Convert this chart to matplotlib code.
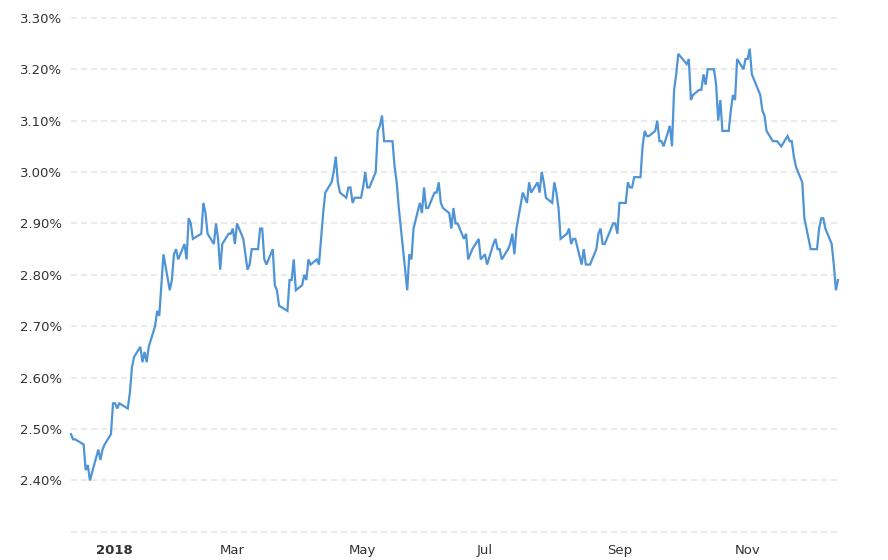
import matplotlib
matplotlib.use("Agg")
import matplotlib.pyplot as plt
import pandas as pd

# 10-year yield, % (trading days, Dec 20 2017 - Dec 20 2018)
dec17 = [2.49, 2.48, 2.48, 2.47, 2.42, 2.43, 2.40]
jan = [2.46, 2.44, 2.46, 2.47, 2.49, 2.55, 2.55, 2.54, 2.55, 2.54, 2.57, 2.62, 2.64, 2.66,
       2.63, 2.65, 2.63, 2.66, 2.70, 2.73, 2.72]
feb = [2.78, 2.84, 2.77, 2.79, 2.84, 2.85, 2.83, 2.86, 2.83, 2.91, 2.90, 2.87, 2.88, 2.94,
       2.92, 2.88, 2.86, 2.90, 2.87]
mar = [2.81, 2.86, 2.88, 2.88, 2.89, 2.86, 2.90, 2.87, 2.84, 2.81, 2.82, 2.85, 2.85, 2.89,
       2.89, 2.83, 2.82, 2.85, 2.78, 2.77, 2.74]
apr = [2.73, 2.79, 2.79, 2.83, 2.77, 2.78, 2.80, 2.79, 2.83, 2.82, 2.83, 2.82, 2.87, 2.92,
       2.96, 2.98, 3.00, 3.03, 2.98, 2.96, 2.95]
may = [2.97, 2.97, 2.94, 2.95, 2.95, 2.97, 3.00, 2.97, 2.97, 3.00, 3.08, 3.09, 3.11, 3.06,
       3.06, 3.06, 3.01, 2.98, 2.93, 2.77, 2.84, 2.83]
jun = [2.89, 2.94, 2.92, 2.97, 2.93, 2.93, 2.96, 2.96, 2.98, 2.94, 2.93, 2.92, 2.89, 2.93,
       2.90, 2.90, 2.87, 2.88, 2.83, 2.84, 2.85]
jul = [2.87, 2.83, 2.84, 2.82, 2.86, 2.87, 2.85, 2.85, 2.83, 2.85, 2.86, 2.88, 2.84, 2.89,
       2.96, 2.95, 2.94, 2.98, 2.96, 2.98, 2.96]
aug = [3.00, 2.98, 2.95, 2.94, 2.98, 2.96, 2.93, 2.87, 2.88, 2.89, 2.86, 2.87, 2.87, 2.82,
       2.85, 2.82, 2.82, 2.82, 2.85, 2.88, 2.89, 2.86, 2.86]
sep = [2.90, 2.90, 2.88, 2.94, 2.94, 2.98, 2.97, 2.97, 2.99, 2.99, 3.05, 3.08, 3.07, 3.07,
       3.08, 3.10, 3.06, 3.06, 3.05]
oct_ = [3.09, 3.05, 3.16, 3.19, 3.23, 3.21, 3.22, 3.14, 3.15, 3.16, 3.16, 3.19, 3.17, 3.20,
        3.20, 3.17, 3.10, 3.14, 3.08, 3.08, 3.12, 3.15]
nov = [3.14, 3.22, 3.20, 3.22, 3.22, 3.24, 3.19, 3.15, 3.12, 3.11, 3.08, 3.06, 3.06, 3.06,
       3.05, 3.07, 3.06, 3.06, 3.03, 3.01]
dec18 = [2.98, 2.91, 2.87, 2.85, 2.85, 2.89, 2.91, 2.91, 2.89, 2.86, 2.82, 2.77, 2.79]

# bond market holidays in the range
holidays = ["2017-12-25", "2018-01-01", "2018-01-15", "2018-02-19", "2018-03-30",
            "2018-05-28", "2018-07-04", "2018-09-03", "2018-10-08", "2018-11-12",
            "2018-11-22", "2018-12-05"]

yields = dec17 + jan + feb + mar + apr + may + jun + jul + aug + sep + oct_ + nov + dec18
dates = pd.bdate_range("2017-12-20", "2018-12-20", freq="C", holidays=holidays)
assert len(dates) == len(yields), (len(dates), len(yields))

y_ticks = [2.30, 2.40, 2.50, 2.60, 2.70, 2.80, 2.90, 3.00, 3.10, 3.20, 3.30]
x_ticks = ["2018-01-01", "2018-03-01", "2018-05-01", "2018-07-01", "2018-09-01", "2018-11-01"]
x_labels = ["2018", "Mar", "May", "Jul", "Sep", "Nov"]

fig = plt.figure(figsize=(8.88, 5.60), dpi=100)
ax = fig.add_axes([71 / 888, 23 / 560, 767 / 888, 524.3 / 560])

ax.plot(dates, yields, color="#4f94d4", lw=1.6, solid_joinstyle="miter", clip_on=False)

ax.set_xlim(dates[0], dates[-1])
ax.set_ylim(2.29, 3.31)

ax.set_yticks(y_ticks)
ax.set_yticklabels(["" if v < 2.35 else f"{v:.2f}%" for v in y_ticks])
ax.set_xticks(pd.to_datetime(x_ticks))
ax.set_xticklabels(x_labels, ha="left")
ax.get_xticklabels()[0].set_fontweight("bold")

# light dashed horizontal grid
ax.grid(axis="y", color="#ebebeb", lw=1.5, linestyle=(0, (2.9, 1.9)))
ax.set_axisbelow(True)
for s in ax.spines.values():
    s.set_visible(False)
ax.tick_params(axis="both", length=0, labelsize=9.5, colors="#333333")
ax.tick_params(axis="y", pad=6.5)
ax.tick_params(axis="x", pad=5)

fig.savefig("out.png", dpi=100)
